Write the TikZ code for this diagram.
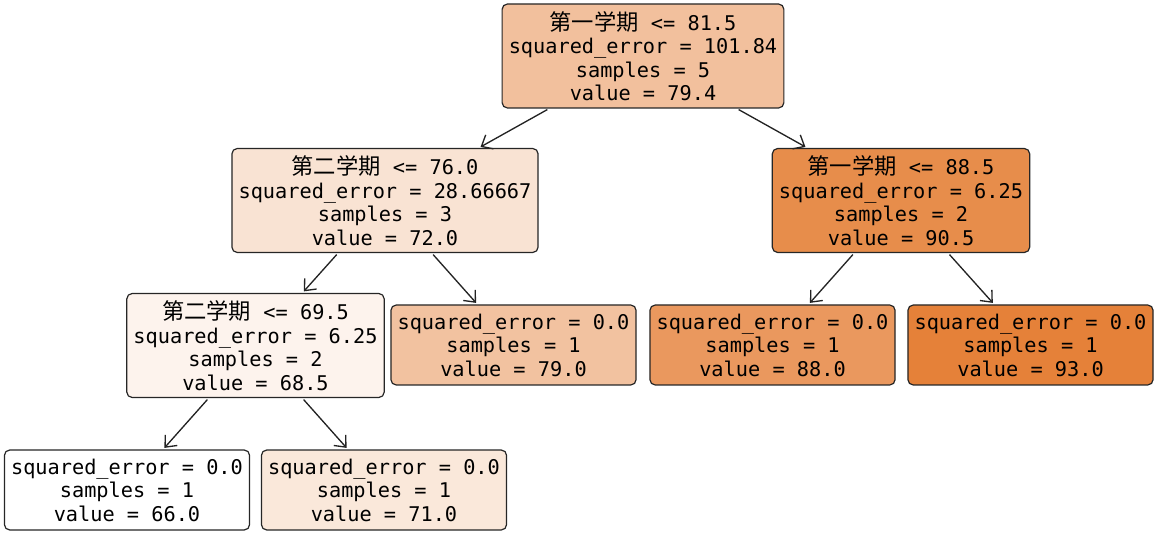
\documentclass[tikz,border=0pt]{standalone}
\usepackage{fontspec}
\usetikzlibrary{arrows.meta}
\newfontfamily\treefont{DejaVu Sans Mono}
\newfontfamily\cjkfont[Scale=1.1]{Noto Sans CJK SC}
\definecolor{skorange}{RGB}{229,129,57}
\definecolor{edgegray}{RGB}{35,35,35}
\newcommand{\cn}[1]{{\cjkfont #1}}

\begin{document}
\begin{tikzpicture}[x=0.75pt,y=-0.75pt,
  split/.style={draw=black!85,line width=0.9pt,rounded corners=4pt,align=center,
    font=\treefont\fontsize{15.2pt}{17.6pt}\selectfont,inner xsep=5pt,minimum height=78pt},
  leaf/.style={split,minimum height=60pt},
  edge/.style={edgegray,line width=1pt,-{Straight Barb[length=7pt,width=12pt]},
    shorten >=1.5pt,shorten <=1.5pt}]
\useasboundingbox (0,0) rectangle (1160,534);

%splits
\node[split,fill=skorange!49.6] (n0) at (643,56)
  {\cn{第一学期} <= 81.5\\squared\_error = 101.84\\samples = 5\\value = 79.4};
\node[split,fill=skorange!22.2] (n1) at (385,200.5)
  {\cn{第二学期} <= 76.0\\squared\_error = 28.66667\\samples = 3\\value = 72.0};
\node[split,fill=skorange!90.7] (n6) at (901,200.5)
  {\cn{第一学期} <= 88.5\\squared\_error = 6.25\\samples = 2\\value = 90.5};
\node[split,fill=skorange!9.3] (n2) at (255.5,345.5)
  {\cn{第二学期} <= 69.5\\squared\_error = 6.25\\samples = 2\\value = 68.5};

%leaves
\node[leaf,fill=skorange!48.1] (n5) at (513.5,345)
  {squared\_error = 0.0\\samples = 1\\value = 79.0};
\node[leaf,fill=skorange!81.5] (n7) at (772.5,345)
  {squared\_error = 0.0\\samples = 1\\value = 88.0};
\node[leaf,fill=skorange] (n8) at (1030.5,345)
  {squared\_error = 0.0\\samples = 1\\value = 93.0};
\node[leaf,fill=white] (n3) at (127,490)
  {squared\_error = 0.0\\samples = 1\\value = 66.0};
\node[leaf,fill=skorange!18.5] (n4) at (384,490)
  {squared\_error = 0.0\\samples = 1\\value = 71.0};

\draw[edge] (n0) -- (n1);
\draw[edge] (n0) -- (n6);
\draw[edge] (n1) -- (n2);
\draw[edge] (n1) -- (n5);
\draw[edge] (n6) -- (n7);
\draw[edge] (n6) -- (n8);
\draw[edge] (n2) -- (n3);
\draw[edge] (n2) -- (n4);

\end{tikzpicture}
\end{document}
